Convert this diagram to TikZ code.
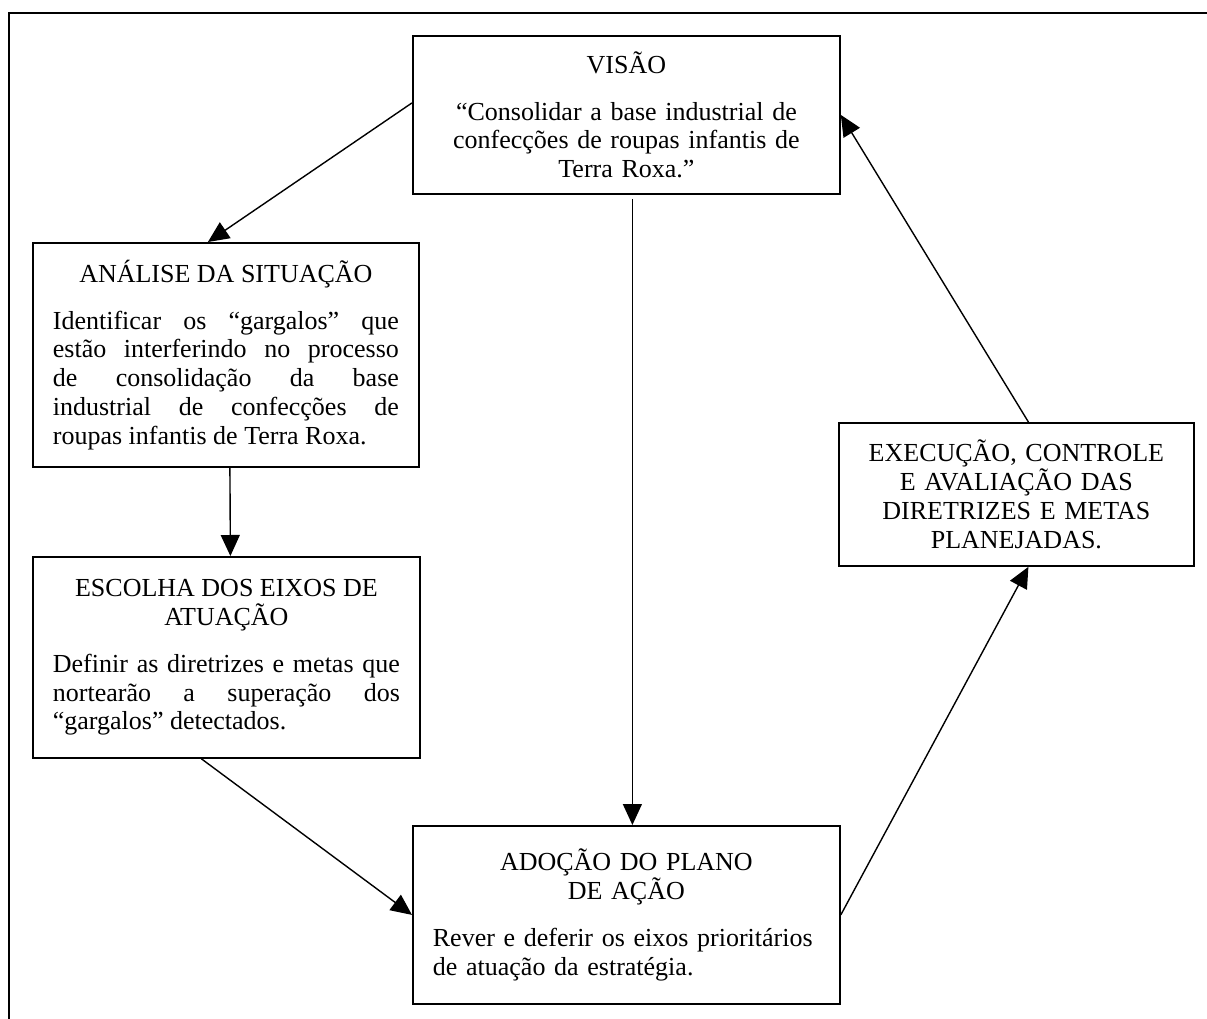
\documentclass[tikz,border=0pt]{standalone}
\usepackage{fontspec}
\setmainfont{Liberation Serif}
\usetikzlibrary{arrows.meta,calc}
\hyphenpenalty=10000
\exhyphenpenalty=10000
\newcommand{\titulo}[1]{{\centering #1\par}\vspace{18pt}}

\begin{document}
\begin{tikzpicture}[
  x=1pt, y=-1pt,
  box/.style={rectangle, draw, line width=1.8pt, anchor=north west, inner xsep=20pt, inner ysep=0pt, font=\fontsize{26}{28.8}\selectfont},
  arr/.style={-{Triangle[length=21pt,width=19pt]}, line width=1.4pt}
]
\useasboundingbox (0,0) rectangle (1207,1019);

% Frame: left and top only
\draw[line width=2pt] (8.5,1019) -- (8.5,13) -- (1207,13);

% Top: vision
\node[box, text width=387pt, minimum height=158pt, align=center] (visao) at (412,35) {\titulo{VISÃO}“Consolidar a base industrial de\\confecções de roupas infantis de\\Terra Roxa.”};

% Left column
\node[box, text width=346pt, minimum height=224pt, align=justify] (analise) at (32,242) {\titulo{ANÁLISE DA SITUAÇÃO}Identificar os “gargalos” que\linebreak estão interferindo no processo\linebreak de consolidação da base\linebreak industrial de confecções de\linebreak roupas infantis de Terra Roxa.};
\node[box, text width=347pt, minimum height=201pt, align=justify] (escolha) at (32,556) {\titulo{ESCOLHA DOS EIXOS DE\\ATUAÇÃO}Definir as diretrizes e metas que\linebreak nortearão a superação dos\linebreak “gargalos” detectados.};

% Bottom: action plan
\node[box, text width=387pt, minimum height=178pt, align=left] (adocao) at (412,825) {\titulo{ADOÇÃO DO PLANO\\DE AÇÃO}Rever e deferir os eixos prioritários\\de atuação da estratégia.};

% Right: execution
\node[box, text width=315pt, minimum height=143pt, align=center] (execucao) at (838,422) {EXECUÇÃO, CONTROLE\\E AVALIAÇÃO DAS\\DIRETRIZES E METAS\\PLANEJADAS.};

% Cycle
\draw[arr] ([yshift=12pt]visao.west) -- ([xshift=-18pt]analise.north);
\draw[arr] ([xshift=4pt]analise.south) -- ([xshift=4pt]escolha.north);
\draw[arr] ([xshift=-25pt]escolha.south) -- (adocao.west);
\draw[arr] ([xshift=6pt,yshift=-4pt]visao.south) -- ([xshift=6pt]adocao.north);
\draw[arr] (adocao.east) -- ([xshift=12pt]execucao.south);
\draw[arr] ([xshift=12pt]execucao.north) -- (visao.east);

\end{tikzpicture}
\end{document}
